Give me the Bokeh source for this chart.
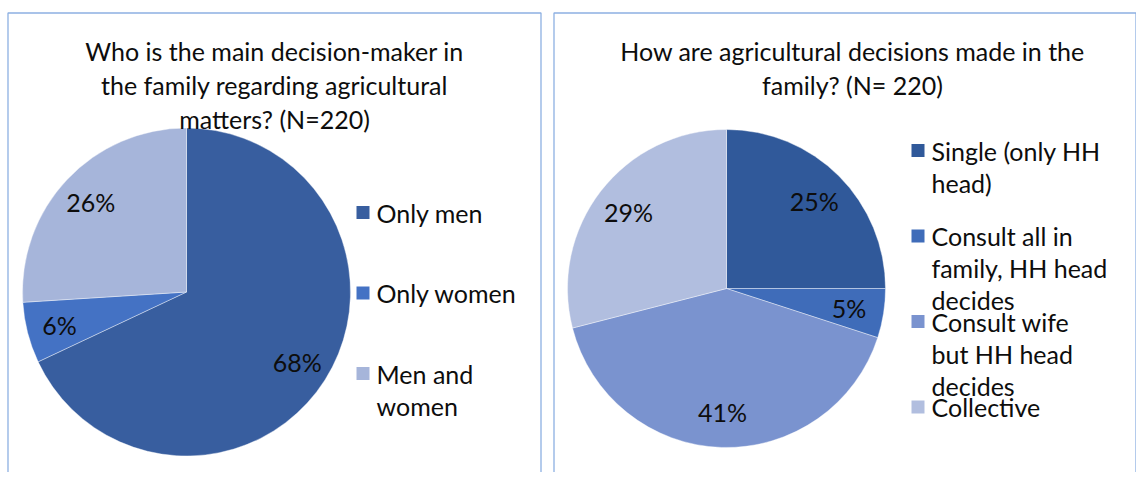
import numpy as np
from bokeh.plotting import figure
from bokeh.models import Range1d, ColumnDataSource
from bokeh.core.properties import value
from bokeh.embed import file_html
from bokeh.resources import INLINE

# ---- data ----
title1 = ["Who is the main decision-maker in",
          "the family regarding agricultural",
          "matters? (N=220)"]
cats1 = ["Only men", "Only women", "Men and\nwomen"]
vals1 = [68, 6, 26]
colors1 = ["#385E9F", "#4472C4", "#A6B5DA"]

title2 = ["How are agricultural decisions made in the",
          "family? (N= 220)"]
cats2 = ["Single (only HH\nhead)",
         "Consult  all in\nfamily, HH head\ndecides",
         "Consult wife\nbut HH head\ndecides",
         "Collective"]
vals2 = [25, 5, 41, 29]
colors2 = ["#30599A", "#3F6CB9", "#7A93CF", "#B1BEDF"]

# ---- layout ----
W, H = 1136, 472
OFF = 1
FONT = "Lato"
FS = "25px"
TXT = "#0D0D0D"
BORDER = "#8DB0E2"


def px(x):
    return x - OFF


def py(y):
    return H + OFF - y


p = figure(width=W, height=H, x_range=Range1d(0, W), y_range=Range1d(0, H),
           output_backend="svg", toolbar_location=None, min_border=0,
           background_fill_color="white", border_fill_color="white")
p.axis.visible = False
p.grid.visible = False
p.outline_line_color = None

# panel borders (decoration)
p.multi_line(xs=[[px(8.5), px(8.5), px(541.5), px(541.5)],
                 [px(554.5), px(554.5), px(1136.5), px(1136.5)]],
             ys=[[py(490), py(13.5), py(13.5), py(490)],
                 [py(490), py(13.5), py(13.5), py(490)]],
             line_color=BORDER, line_width=1.3)


def draw_panel(vals, cats, colors, title, cx, cy, r, title_cx, title_y0,
               leg_x, leg_y0, leg_step, lab_fac):
    v = np.array(vals, dtype=float)
    frac = v / v.sum()
    cum = np.concatenate([[0], np.cumsum(frac)])
    start = np.pi / 2 - 2 * np.pi * cum[:-1]
    end = np.pi / 2 - 2 * np.pi * cum[1:]
    src = ColumnDataSource(dict(start=start, end=end, color=colors))
    p.wedge(x=px(cx), y=py(cy), radius=r, start_angle="start", end_angle="end",
            direction="clock", fill_color="color", line_color="white",
            line_width=0.4, source=src)
    # percentage labels
    mid = (start + end) / 2
    lx = px(cx) + lab_fac * r * np.cos(mid)
    ly = py(cy) + lab_fac * r * np.sin(mid)
    labels = [f"{int(round(x))}%" for x in vals]
    p.text(x=lx, y=ly, text=labels, text_font=value(FONT), text_font_size=FS,
           text_align="center", text_baseline="middle", text_color=TXT)
    # title
    ty = [py(title_y0 + 34 * i) for i in range(len(title))]
    p.text(x=[px(title_cx)] * len(title), y=ty, text=title,
           text_font=value(FONT), text_font_size=FS, text_align="center",
           text_baseline="middle", text_color=TXT)
    # legend
    sq_x, sq_y, tx, tyy, tt = [], [], [], [], []
    for i, c in enumerate(cats):
        y0 = leg_y0 + leg_step * i
        sq_x.append(px(leg_x + 6.5))
        sq_y.append(py(y0))
        for j, line in enumerate(c.split("\n")):
            tx.append(px(leg_x + 20))
            tyy.append(py(y0 + 32 * j))
            tt.append(line)
    p.rect(x=sq_x, y=sq_y, width=13, height=13, fill_color=colors,
           line_color=None)
    p.text(x=tx, y=tyy, text=tt, text_font=value(FONT), text_font_size=FS,
           text_align="left", text_baseline="middle", text_color=TXT)


draw_panel(vals1, cats1, colors1, title1, cx=187, cy=292.5, r=164,
           title_cx=275, title_y0=51, leg_x=357, leg_y0=213, leg_step=80.5,
           lab_fac=0.8)
draw_panel(vals2, cats2, colors2, title2, cx=727, cy=289, r=159,
           title_cx=853, title_y0=51, leg_x=912, leg_y0=151, leg_step=85.5,
           lab_fac=0.78)

open("out.html", "w").write(file_html(p, INLINE))
